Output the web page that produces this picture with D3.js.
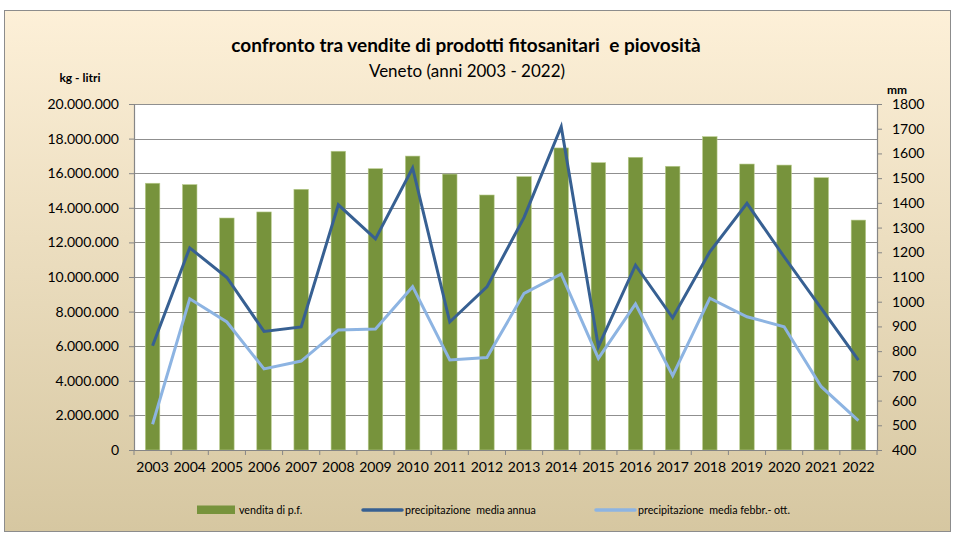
<!DOCTYPE html>
<html>
<head>
    <title>confronto vendite fitosanitari e piovosità</title>
    <script src="https://d3js.org/d3.v7.min.js"></script>
    <style>
        body { margin: 0; background: #fff; }
        text { font-family: Lato, "Open Sans", sans-serif; fill: #000; }
    </style>
</head>
<body>
    <div id="chart"></div>
    <script>
        // Data
        const years = ["2003", "2004", "2005", "2006", "2007", "2008", "2009", "2010", "2011", "2012",
                       "2013", "2014", "2015", "2016", "2017", "2018", "2019", "2020", "2021", "2022"];
        const vendite = [15420000, 15340000, 13410000, 13760000, 15070000, 17270000, 16260000, 16990000, 15950000, 14740000,
                         15800000, 17460000, 16610000, 16920000, 16400000, 18110000, 16530000, 16470000, 15740000, 13290000];
        const precAnnua = [822, 1218, 1098, 880, 898, 1392, 1254, 1541, 918, 1060,
                           1341, 1708, 818, 1148, 935, 1202, 1398, 1182, 973, 764];
        const precFebOtt = [504, 1012, 918, 728, 760, 886, 890, 1061, 764, 774,
                            1034, 1112, 771, 991, 701, 1014, 939, 899, 656, 519];
        const leftTicks = d3.range(0, 20000001, 2000000);
        const rightTicks = d3.range(400, 1801, 100);

        const W = 955, H = 537;
        const plot = { left: 134, right: 877, top: 104, bottom: 450 };

        const svg = d3.select("#chart")
            .append("svg")
            .attr("width", W)
            .attr("height", H);

        // background gradient of the chart area
        const grad = svg.append("defs").append("linearGradient")
            .attr("id", "bg").attr("x1", 0).attr("y1", 0).attr("x2", 0).attr("y2", 1);
        grad.append("stop").attr("offset", "0%").attr("stop-color", "#fdf0d8");
        grad.append("stop").attr("offset", "100%").attr("stop-color", "#d6c7a1");

        svg.append("rect")
            .attr("x", 4.5).attr("y", 10.5)
            .attr("width", 946).attr("height", 521)
            .attr("fill", "url(#bg)")
            .attr("stroke", "#8c8c8c");

        svg.append("rect")
            .attr("x", plot.left).attr("y", plot.top)
            .attr("width", plot.right - plot.left).attr("height", plot.bottom - plot.top)
            .attr("fill", "#fff");

        // scales
        const x = d3.scaleBand()
            .domain(years)
            .range([plot.left, plot.right])
            .paddingInner(0.61)
            .paddingOuter(0.305);
        const yL = d3.scaleLinear().domain([0, 20000000]).range([plot.bottom, plot.top]);
        const yR = d3.scaleLinear().domain([400, 1800]).range([plot.bottom, plot.top]);

        const it = d3.formatLocale({ decimal: ",", thousands: ".", grouping: [3], currency: ["", "€"] });
        const fmt = it.format(",.0f");

        // gridlines
        svg.append("g")
            .selectAll("line")
            .data(leftTicks.slice(1))
            .join("line")
            .attr("x1", plot.left).attr("x2", plot.right)
            .attr("y1", d => Math.round(yL(d)) + 0.5)
            .attr("y2", d => Math.round(yL(d)) + 0.5)
            .attr("stroke", "#8f8f8f")
            .attr("stroke-width", 1.2);

        // bars
        svg.append("g")
            .selectAll("rect")
            .data(vendite)
            .join("rect")
            .attr("x", (d, i) => x(years[i]))
            .attr("y", d => yL(d))
            .attr("width", x.bandwidth())
            .attr("height", d => plot.bottom - yL(d))
            .attr("fill", "#77933c")
            .attr("stroke", "#b9cc8e")
            .attr("stroke-width", 0.6);

        // lines
        const line = d3.line()
            .x((d, i) => x(years[i]) + x.bandwidth() / 2)
            .y(d => yR(d));

        svg.append("path")
            .datum(precFebOtt)
            .attr("d", line)
            .attr("fill", "none")
            .attr("stroke", "#8db4e2")
            .attr("stroke-width", 3);

        svg.append("path")
            .datum(precAnnua)
            .attr("d", line)
            .attr("fill", "none")
            .attr("stroke", "#376092")
            .attr("stroke-width", 3);

        // left axis
        const axL = svg.append("g")
            .attr("transform", `translate(${plot.left},0)`)
            .call(d3.axisLeft(yL).tickValues(leftTicks).tickFormat(fmt).tickSize(5).tickPadding(10));
        // right axis
        const axR = svg.append("g")
            .attr("transform", `translate(${plot.right},0)`)
            .call(d3.axisRight(yR).tickValues(rightTicks).tickFormat(d3.format("d")).tickSize(5).tickPadding(10));
        // bottom axis (labels only, ticks between categories)
        const axB = svg.append("g")
            .attr("transform", `translate(0,${plot.bottom})`)
            .call(d3.axisBottom(x).tickSize(0).tickPadding(12));

        [axL, axR, axB].forEach(g => {
            g.select(".domain").attr("stroke", "#868686").attr("stroke-width", 1.2);
            g.selectAll(".tick line").attr("stroke", "#868686");
            g.selectAll("text").style("font-size", "14px").attr("fill", "#000");
        });

        const gap = x.step() * x.paddingInner() / 2;
        svg.append("g")
            .selectAll("line")
            .data(years.concat(["end"]))
            .join("line")
            .attr("x1", (d, i) => i < years.length ? x(d) - gap : plot.right)
            .attr("x2", (d, i) => i < years.length ? x(d) - gap : plot.right)
            .attr("y1", plot.bottom)
            .attr("y2", plot.bottom + 5)
            .attr("stroke", "#868686");

        // titles
        svg.append("text")
            .attr("x", 466).attr("y", 52)
            .attr("text-anchor", "middle")
            .attr("xml:space", "preserve")
            .style("font-size", "19px").style("font-weight", "bold")
            .text("confronto tra vendite di prodotti fitosanitari  e piovosità");
        svg.append("text")
            .attr("x", 467).attr("y", 77)
            .attr("text-anchor", "middle")
            .style("font-size", "17px")
            .text("Veneto (anni 2003 - 2022)");
        svg.append("text")
            .attr("x", 80).attr("y", 82)
            .attr("text-anchor", "middle")
            .style("font-size", "12px").style("font-weight", "bold")
            .text("kg - litri");
        svg.append("text")
            .attr("x", 897).attr("y", 94)
            .attr("text-anchor", "middle")
            .style("font-size", "12px").style("font-weight", "bold")
            .text("mm");

        // legend
        const legend = svg.append("g").attr("transform", "translate(0,510)");
        const items = [
            { label: "vendita di p.f.", x: 197, type: "bar", color: "#77933c" },
            { label: "precipitazione  media annua", x: 363, type: "line", color: "#376092" },
            { label: "precipitazione  media febbr.- ott.", x: 596, type: "line", color: "#8db4e2" }
        ];
        items.forEach(d => {
            if (d.type === "bar") {
                legend.append("rect")
                    .attr("x", d.x).attr("y", -4.5)
                    .attr("width", 38).attr("height", 8.5)
                    .attr("fill", d.color);
            } else {
                legend.append("line")
                    .attr("x1", d.x).attr("x2", d.x + 39)
                    .attr("y1", 0).attr("y2", 0)
                    .attr("stroke", d.color)
                    .attr("stroke-width", 3.5)
                    .attr("stroke-linecap", "round");
            }
            legend.append("text")
                .attr("x", d.x + 42).attr("y", 4)
                .attr("xml:space", "preserve")
                .style("font-size", "10.7px")
                .text(d.label);
        });
    </script>
</body>
</html>
